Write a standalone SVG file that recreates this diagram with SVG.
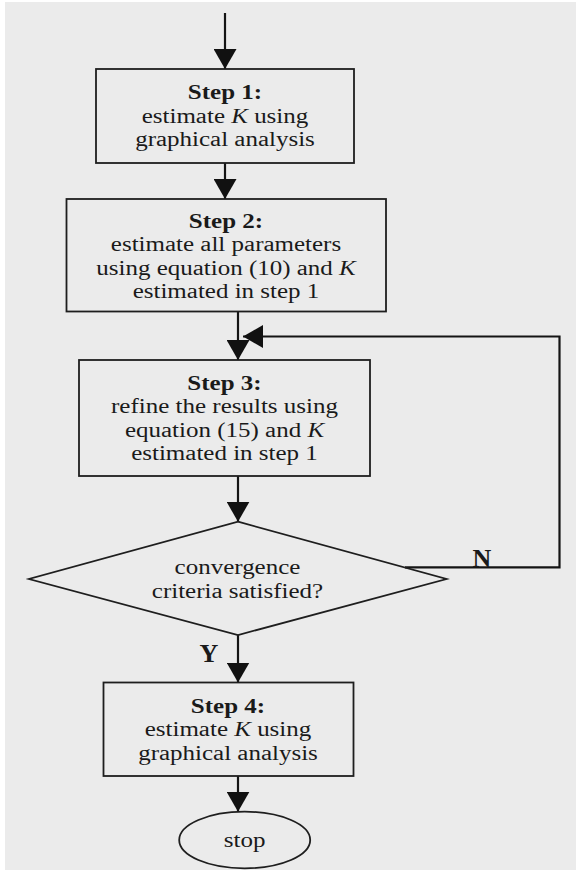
<svg xmlns="http://www.w3.org/2000/svg" width="576" height="873" viewBox="0 0 576 873">
<style>
.box{fill:none;stroke:#1e1e1e;stroke-width:1.8}
.con{fill:none;stroke:#141414;stroke-width:2.2}
text{font-family:"Liberation Serif","Times New Roman",serif;font-size:20px;fill:#1a1a1a;text-anchor:middle}
.b{font-weight:bold}
.i{font-style:italic}
.lbl{font-size:26px;font-weight:bold}
</style>
<defs>
<marker id="ah" markerUnits="userSpaceOnUse" markerWidth="20" markerHeight="23" refX="20" refY="11.5" orient="auto" viewBox="0 0 20 23"><path d="M0,0 L20,11.5 L0,23 Z" fill="#111"/></marker>
</defs>
<rect width="576" height="873" fill="#ffffff"/>
<rect x="5" y="2" width="571" height="868" fill="#ebebeb"/>
<g id="connectors">
<path class="con" d="M225,13 V69" marker-end="url(#ah)"/>
<path class="con" d="M225,163 V199" marker-end="url(#ah)"/>
<path class="con" d="M238,311.5 V360" marker-end="url(#ah)"/>
<path class="con" d="M238,476 V521.7" marker-end="url(#ah)"/>
<path class="con" d="M238,635 V682.5" marker-end="url(#ah)"/>
<path class="con" d="M238,776 V811.7" marker-end="url(#ah)"/>
<path class="con" d="M405,567.3 H559.5 V336.5 H243" marker-end="url(#ah)"/>
<text class="lbl" x="482" y="567">N</text>
<text class="lbl" x="209" y="661.7">Y</text>
</g>
<g id="step1">
<rect class="box" x="96" y="69" width="258" height="94"/>
<text class="b" transform="translate(225,99) scale(1.25,1)">Step 1:</text>
<text transform="translate(225,122.5) scale(1.25,1)">estimate <tspan class="i">K</tspan>  using</text>
<text transform="translate(225,146) scale(1.25,1)">graphical analysis</text>
</g>
<g id="step2">
<rect class="box" x="66.5" y="199" width="319.5" height="112.5"/>
<text class="b" transform="translate(226,228) scale(1.25,1)">Step 2:</text>
<text transform="translate(226,251) scale(1.25,1)">estimate all parameters</text>
<text transform="translate(226,274.5) scale(1.25,1)">using equation (10) and <tspan class="i">K</tspan></text>
<text transform="translate(226,298) scale(1.25,1)">estimated in step 1</text>
</g>
<g id="step3">
<rect class="box" x="79" y="360" width="291" height="116"/>
<text class="b" transform="translate(224.5,390) scale(1.25,1)">Step 3:</text>
<text transform="translate(224.5,413.3) scale(1.25,1)">refine the results using</text>
<text transform="translate(224.5,436.7) scale(1.25,1)">equation (15) and <tspan class="i">K</tspan></text>
<text transform="translate(224.5,460) scale(1.25,1)">estimated in step 1</text>
</g>
<g id="decision">
<polygon class="box" points="238,521.7 446.5,579 238,635 29,579"/>
<text transform="translate(237.5,574) scale(1.25,1)">convergence</text>
<text transform="translate(237.5,597.5) scale(1.25,1)">criteria satisfied?</text>
</g>
<g id="step4">
<rect class="box" x="103.5" y="682.5" width="250" height="93.5"/>
<text class="b" transform="translate(228,713) scale(1.25,1)">Step 4:</text>
<text transform="translate(228,736.3) scale(1.25,1)">estimate <tspan class="i">K</tspan>  using</text>
<text transform="translate(228,759.7) scale(1.25,1)">graphical  analysis</text>
</g>
<g id="stop">
<ellipse class="box" cx="244.7" cy="840" rx="65.5" ry="28.3"/>
<text transform="translate(244.7,847.3) scale(1.25,1)">stop</text>
</g>
</svg>
